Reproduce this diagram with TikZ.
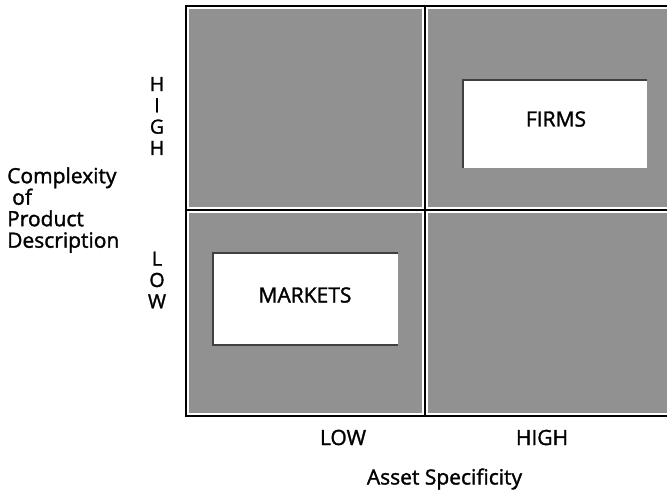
\documentclass[tikz,border=0pt]{standalone}
\usepackage{fontspec}
\setmainfont{Open Sans}[FakeBold=1.5]
\begin{document}
\begin{tikzpicture}[x=1bp,y=-1bp,
  quad/.style={fill=black!43},
  rule/.style={line width=2.6bp, black},
  txt/.style={font=\fontsize{21bp}{21.5bp}\selectfont, inner sep=0pt},
  vtxt/.style={font=\fontsize{19.5bp}{21.3bp}\selectfont, inner sep=0pt, align=center},
  cell/.style={fill=white, draw=none, inner sep=0pt},
  edge shade/.style={line width=2.5bp, black!75}
]
\useasboundingbox (0,0) rectangle (667,493);

% shaded quadrants
\fill[quad] (189,9)   rectangle (422,207);
\fill[quad] (428,9)   rectangle (667,207);
\fill[quad] (189,213) rectangle (422,413);
\fill[quad] (428,213) rectangle (667,413);

% frame and dividers
\draw[rule] (667,6) -- (186,6) -- (186,416) -- (667,416);
\draw[rule] (425,6) -- (425,416);
\draw[rule] (186,210) -- (667,210);

% inset boxes
\node[cell, minimum width=184bp, minimum height=88bp] (firms) at (555,124) {};
\draw[edge shade] (firms.south west) -- (firms.north west) -- (firms.north east);
\node[txt] (firmslabel) at (556,119) {FIRMS};

\node[cell, minimum width=185bp, minimum height=92bp] (markets) at (305.5,299) {};
\draw[edge shade] (markets.north east) -- (markets.north west) -- (markets.south west) -- (markets.south east);
\node[txt] (marketslabel) at (305,295) {MARKETS};

% vertical axis
\node[vtxt] (high) at (157,116) {H\\I\\G\\H};
\node[vtxt] (low) at (157,280) {L\\O\\W};
\node[txt, anchor=west, align=left] (ylabel) at (7,210)
  {Complexity\\\hspace*{5bp}of\\Product\\Description};

% horizontal axis
\node[txt] (xlow) at (343,437.5) {LOW};
\node[txt] (xhigh) at (542,437.5) {HIGH};
\node[txt] (xlabel) at (444.5,479) {Asset Specificity};
\end{tikzpicture}
\end{document}
